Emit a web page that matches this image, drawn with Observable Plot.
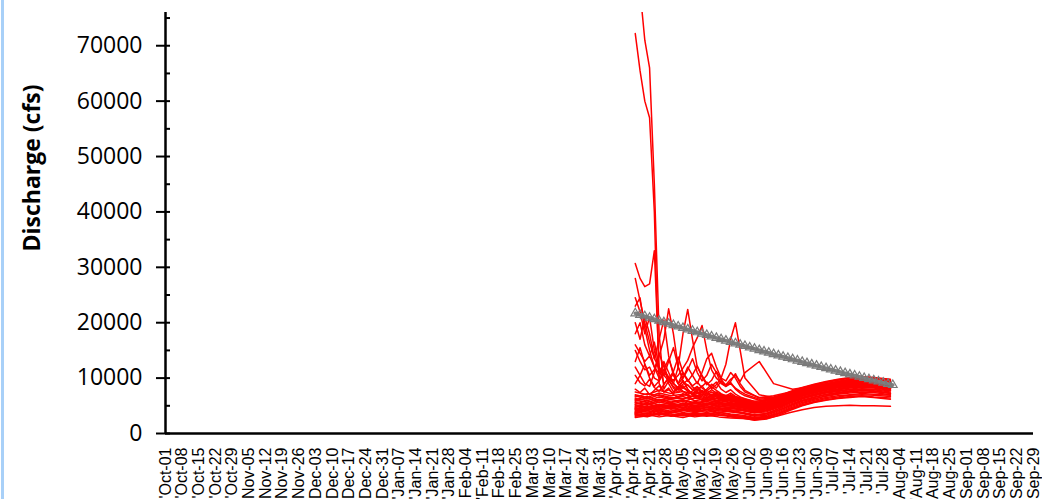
<!DOCTYPE html>
<html><head><meta charset="utf-8">
<script src="https://cdn.jsdelivr.net/npm/d3@7"></script>
<script src="https://cdn.jsdelivr.net/npm/@observablehq/plot@0.6"></script>
<style>
html,body{margin:0;padding:0;background:#fff;overflow:hidden}
#wrap{position:relative;width:1042px;height:499px}
#edge{position:absolute;left:1px;top:0;width:3px;height:499px;background:#a8d0f8}
#wrap svg{position:absolute;left:0;top:0}
#ytitle{position:absolute;left:31px;top:168px;transform:translate(-50%,-50%) rotate(-90deg);white-space:nowrap;font-family:"Open Sans",sans-serif;font-weight:bold;font-size:23px;color:#000;z-index:2}
</style></head><body><div id="wrap"><div id="edge"></div><div id="ytitle"></div></div>
<script>
const weekLabels = ["Oct-01","Oct-08","Oct-15","Oct-22","Oct-29","Nov-05","Nov-12","Nov-19","Nov-26","Dec-03","Dec-10","Dec-17","Dec-24","Dec-31","Jan-07","Jan-14","Jan-21","Jan-28","Feb-04","Feb-11","Feb-18","Feb-25","Mar-03","Mar-10","Mar-17","Mar-24","Mar-31","Apr-07","Apr-14","Apr-21","Apr-28","May-05","May-12","May-19","May-26","Jun-02","Jun-09","Jun-16","Jun-23","Jun-30","Jul-07","Jul-14","Jul-21","Jul-28","Aug-04","Aug-11","Aug-18","Aug-25","Sep-01","Sep-08","Sep-15","Sep-22","Sep-29"];
const yTicks = [0,10000,20000,30000,40000,50000,60000,70000];
const yMinorTicks = [0,5000,10000,15000,20000,25000,30000,35000,40000,45000,50000,55000,60000,65000,70000,75000];
const yMax = 76000;
const yTitle = "Discharge (cfs)";

// red series, coarse (5-day) dates
const bandDates = ["Apr-15","Apr-20","Apr-25","Apr-30","May-05","May-10","May-15","May-20","May-25","May-30","Jun-04","Jun-09","Jun-14","Jun-19","Jun-24","Jun-29","Jul-04","Jul-09","Jul-14","Jul-19","Jul-24","Jul-31"];
const band01 = [4200,3900,4100,3800,4300,4000,4400,4100,3900,3700,3300,3600,4500,5600,6300,6800,7300,7600,7900,8100,8000,7700];
const band02 = [5200,4800,5300,5000,4600,5100,5400,4900,4700,4400,4000,4300,5200,6100,6900,7400,7900,8300,8700,8900,8600,8200];
const band03 = [3100,3400,3000,3300,3600,3200,3500,3900,3400,3000,2700,2900,3700,4600,5400,6000,6500,6800,7000,7200,7100,6900];
const band04 = [6300,5900,6600,6100,5800,6400,6000,5600,5900,5300,4700,5100,5800,6700,7500,8100,8600,9000,9400,9600,9300,8900];
const band05 = [4700,5400,4500,4900,5500,4800,5200,5700,5200,4900,4500,4800,5600,6400,7100,7700,8200,8500,8800,9100,8800,8400];
const band06 = [3600,3300,3800,3500,3200,3700,3300,3600,3100,2900,2600,2800,3500,4400,5100,5700,6100,6400,6700,6800,6600,6400];
const band07 = [5800,6400,5600,6200,6700,5900,6300,5800,6200,5700,5000,5300,6000,6900,7600,8300,8800,9200,9600,9900,9700,9300];
const band08 = [4400,4100,4900,4500,4200,4600,5000,4500,4300,4100,3700,3900,4700,5500,6200,6900,7400,7700,8000,8300,8200,7800];
const band09 = [3800,4400,3900,4300,3800,4200,3800,4300,4000,3600,3100,3300,4100,5000,5800,6300,6700,7100,7300,7500,7400,7000];
const band10 = [7000,6500,7300,6800,7100,6600,7200,6700,6300,6000,5400,5600,6300,7200,7900,8500,9000,9400,9800,10100,9900,9500];
const band11 = [5000,4700,5200,4800,5400,5100,4700,5200,4900,4600,4200,4400,5000,5800,6500,7100,7600,8000,8300,8600,8400,8100];
const band12 = [2900,3200,3500,3100,3400,3000,3300,3000,2800,2700,2500,2700,3200,3800,4300,4700,4900,5000,5100,5000,5000,4900];
const band13 = [6000,5600,6200,5700,6100,5500,5900,6300,5800,5400,4900,5200,5900,6700,7400,8000,8500,8800,9200,9400,9200,8800];
const band14 = [4000,4600,4200,4700,4300,4800,4400,4900,4600,4200,3800,4100,4900,5700,6400,7000,7500,7900,8200,8400,8300,8000];
const band15 = [5500,5100,5700,5300,5000,5600,5100,5500,5300,5000,4500,4700,5400,6200,6900,7500,8000,8400,8700,9000,8700,8300];
const band16 = [3400,3700,3300,3900,3500,3800,3500,3800,3500,3300,2900,3100,3900,4800,5600,6200,6800,7200,7500,7700,7600,7200];
const band17 = [6600,7200,6800,6300,6900,7400,6800,6200,6500,6000,5300,5600,6400,7300,8100,8700,9200,9600,10000,10200,9900,9600];
const band18 = [4500,4900,4400,5100,4700,4300,4800,4400,4800,4400,4000,4200,5000,5900,6700,7300,7800,8100,8500,8700,8500,8100];
const band19 = [3900,3600,4300,3700,4100,4500,4000,4700,4200,3800,3400,3600,4400,5300,6000,6600,7100,7400,7700,8000,7900,7500];
const band20 = [5300,5900,5100,5600,6000,5400,5800,5300,5600,5200,4700,5000,5700,6500,7200,7800,8300,8700,9000,9300,9000,8600];
const band21 = [3300,3000,3600,3200,2900,3400,3100,3400,3000,2800,2400,2600,3300,4200,5000,5600,6000,6300,6500,6700,6500,6200];
const band22 = [4900,5500,4700,5300,5800,5000,5500,5100,5400,4800,4300,4600,5400,6300,7000,7600,8100,8500,8900,9100,8900,8500];
const band23 = [6800,6200,7000,6500,6200,6900,6400,6900,6600,6200,5600,5900,6700,7500,8200,8800,9300,9700,10000,10300,10000,9700];
const band24 = [3700,4200,3500,4000,4500,3900,4300,3800,4100,3700,3300,3500,4200,5100,5900,6500,7000,7300,7600,7800,7700,7300];
const band25 = [5600,5200,6000,5400,5100,5800,5400,6000,5500,5100,4600,4900,5600,6400,7100,7700,8200,8600,8900,9200,8900,8500];
const band26 = [4300,4800,4300,4600,5000,4400,4700,4300,4600,4200,3900,4100,4800,5700,6500,7100,7600,7900,8300,8500,8400,8000];
const band27 = [7500,7000,7800,7200,7600,7100,7700,7000,6800,6400,5800,6000,6700,7600,8300,8900,9400,9800,10100,10300,10100,9800];
const band28 = [3500,3100,3700,3300,3600,3400,3700,3300,3300,3100,2800,3000,3600,4400,5200,5800,6300,6600,6900,7000,6900,6700];
const band29 = [6100,6700,5900,6500,6300,6800,6100,6500,6000,5600,5100,5400,6200,7000,7700,8400,8900,9300,9700,9800,9600,9200];
const band30 = [4600,4300,5000,4600,5200,4700,5300,4800,5100,4700,4300,4500,5300,6100,6800,7400,7900,8300,8600,8800,8600,8200];

// red series, fine early dates (peaks)
const peakDates = ["Apr-15","Apr-17","Apr-19","Apr-21","Apr-23","Apr-25","Apr-27","Apr-29","May-01","May-03","May-05","May-07","May-09","May-11","May-13","May-15","May-17","May-19","May-21","May-23","May-25","May-27","May-29","May-31","Jun-06","Jun-12","Jun-20","Jun-30","Jul-10","Jul-20","Jul-31"];
const peak01 = [72200,65500,60000,57000,40000,9000,7500,8200,7000,6500,7200,6800,6200,6600,6000,5800,6300,5900,5500,5200,5600,5100,4800,4600,4300,5200,6800,7900,8800,9200,8700];
const peak02 = [95000,80000,71000,66000,45000,18000,8000,9500,8500,7800,8600,7600,7200,8000,7400,6900,7500,7000,6600,6200,6800,6300,5900,5600,5200,6000,7400,8600,9500,9900,9400];
const peak03 = [30700,28000,26500,27000,33000,12000,9000,9800,8200,7400,8300,7700,7000,7600,6900,6400,7100,6600,6100,5800,6200,5700,5400,5100,4800,5600,7000,8100,9000,9400,9000];
const peak04 = [28000,24000,20000,16500,13500,12000,10500,9500,10800,9000,8200,8800,7900,7300,7800,7100,6700,7200,6500,6100,6500,6000,5700,5400,5000,5700,6900,7800,8700,9000,8600];
const peak05 = [24500,22000,18000,21000,15000,11000,12500,9000,7500,8400,9600,8000,7100,6800,7400,6600,6200,6900,6300,5900,6300,5800,5500,5200,4700,5300,6500,7600,8500,8900,8300];
const peak06 = [12000,10500,9000,8500,11000,14000,17000,22500,18000,12000,9500,8000,7000,7800,8600,7400,6800,7500,7000,6400,6900,6200,5800,5500,4900,5400,6600,7700,8400,8800,8200];
const peak07 = [15000,13000,11500,12000,10000,9500,11000,10000,9000,12000,18000,22400,17000,12000,10500,9000,8500,9300,8000,7400,7900,7100,6600,6200,5600,6100,7300,8300,9100,9500,9000];
const peak08 = [10500,9200,8600,9800,8300,7600,8800,10200,9100,8000,8900,9700,8400,7800,8500,9300,8100,8800,10000,12500,17000,20000,15000,10000,7000,6500,7500,8400,9300,9700,9100];
const peak09 = [16000,14500,13000,14000,12000,10800,11500,10200,9600,10500,11800,13200,15500,17300,19500,15000,11500,10000,9200,8500,9000,8200,7600,7100,6200,6400,7300,8200,9000,9400,8900];
const peak10 = [8000,7400,8200,7000,7800,8600,7500,7900,7200,8400,7600,7000,7700,8300,7400,8000,8900,8200,9500,8800,9800,10500,9400,11000,13000,9000,8000,8600,9400,9800,9200];
const peak11 = [18000,20000,16000,14000,16500,12000,10500,13000,15500,12000,10000,11500,13500,11000,9500,10500,12500,11000,9000,8500,9200,8000,7300,6800,6000,6200,7100,8000,8900,9300,8800];
const peak12 = [9000,10500,12500,10000,8500,9500,11500,13500,11000,9000,10000,12000,10500,9000,11000,13500,14500,12000,10000,9500,11000,10000,8500,7500,6500,6800,7600,8500,9200,9600,9100];
const peak13 = [23000,24500,19000,15000,12000,10000,13000,11000,9000,8300,9400,8700,7900,8500,7600,7200,7900,7300,6800,6500,7000,6400,6000,5700,5100,5800,7100,8100,8900,9300,8800];
const peak14 = [20000,17000,21000,18000,13500,17000,20500,14000,10500,9000,11000,9700,8600,9300,8200,7700,8400,7800,7200,6800,7300,6700,6300,5900,5300,5900,7000,8000,8800,9100,8700];
const peak15 = [13000,15500,12500,10500,11500,14500,12000,9800,11200,13800,11000,9400,10600,12200,10200,8800,9600,11200,9800,8600,9400,10800,9000,7800,6400,6600,7400,8300,9100,9500,9000];

// gray reference curve, every 2 days from Apr-15
const grayStart = "Apr-15";
const grayStepDays = 2;
const grayValues = [21700,21430,21160,20900,20630,20360,20100,19840,19580,19320,19060,18800,18540,18280,18030,17780,17520,17270,17020,16770,16520,16280,16030,15790,15540,15300,15060,14820,14580,14340,14100,13870,13630,13400,13170,12940,12710,12480,12250,12020,11800,11570,11350,11130,10900,10680,10470,10250,10030,9810,9600,9390,9170,8960,8750];

const parseFull = d3.utcParse("%b-%d-%Y");
function parseMD(s) {
  const m = s.split("-")[0];
  const yr = ["Oct","Nov","Dec"].includes(m) ? 1999 : 2000;
  return parseFull(s + "-" + yr);
}

const bandSeries = [band01,band02,band03,band04,band05,band06,band07,band08,band09,band10,band11,band12,band13,band14,band15,band16,band17,band18,band19,band20,band21,band22,band23,band24,band25,band26,band27,band28,band29,band30];
const peakSeries = [peak01,peak02,peak03,peak04,peak05,peak06,peak07,peak08,peak09,peak10,peak11,peak12,peak13,peak14,peak15];
const redRows = [];
bandSeries.forEach((vals, k) => vals.forEach((v, i) => redRows.push({date: parseMD(bandDates[i]), value: v, series: "b" + k})));
peakSeries.forEach((vals, k) => vals.forEach((v, i) => redRows.push({date: parseMD(peakDates[i]), value: v, series: "p" + k})));
const g0 = parseMD(grayStart);
const grayRows = grayValues.map((v, i) => ({date: d3.utcDay.offset(g0, i * grayStepDays), value: v}));

const tickDates = weekLabels.map(parseMD);
const labelMap = new Map(tickDates.map((d, i) => [+d, "'" + weekLabels[i]]));
const xStart = tickDates[0], xEnd = tickDates[tickDates.length - 1];

document.getElementById("ytitle").textContent = yTitle;

const chart = Plot.plot({
  width: 1042,
  height: 499,
  marginLeft: 165,
  marginRight: 9,
  marginTop: 12,
  marginBottom: 66,
  style: {background: "transparent", overflow: "visible"},
  x: {type: "utc", domain: [xStart, xEnd]},
  y: {domain: [0, yMax]},
  marks: [
    Plot.line(redRows, {x: "date", y: "value", z: "series", stroke: "#ff0000", strokeWidth: 1.5, clip: true}),
    Plot.line(grayRows, {x: "date", y: "value", stroke: "#808080", strokeWidth: 3.5}),
    Plot.dot(grayRows, {x: "date", y: "value", symbol: "triangle", r: 3.2, stroke: "#7a7a7a", fill: "none", strokeWidth: 1.2}),
    Plot.ruleY([0], {stroke: "#000", strokeWidth: 2.5}),
    Plot.ruleX([xStart], {stroke: "#000", strokeWidth: 2.5}),
    Plot.axisY(yMinorTicks, {tickSize: -5, tickFormat: () => "", strokeWidth: 2, label: null}),
    Plot.axisY(yTicks, {tickSize: 9, tickPadding: 14, strokeWidth: 2, fontSize: 23, fontFamily: "Open Sans", tickFormat: d => String(d), label: null, fill: "#000"}),
    Plot.axisX(tickDates, {tickSize: 0, tickPadding: 14, tickRotate: -90, fontSize: 16, fontFamily: "Liberation Sans", tickFormat: d => labelMap.get(+d), label: null, fill: "#000"})
  ]
});
document.getElementById("wrap").appendChild(chart);
</script>
</body></html>
